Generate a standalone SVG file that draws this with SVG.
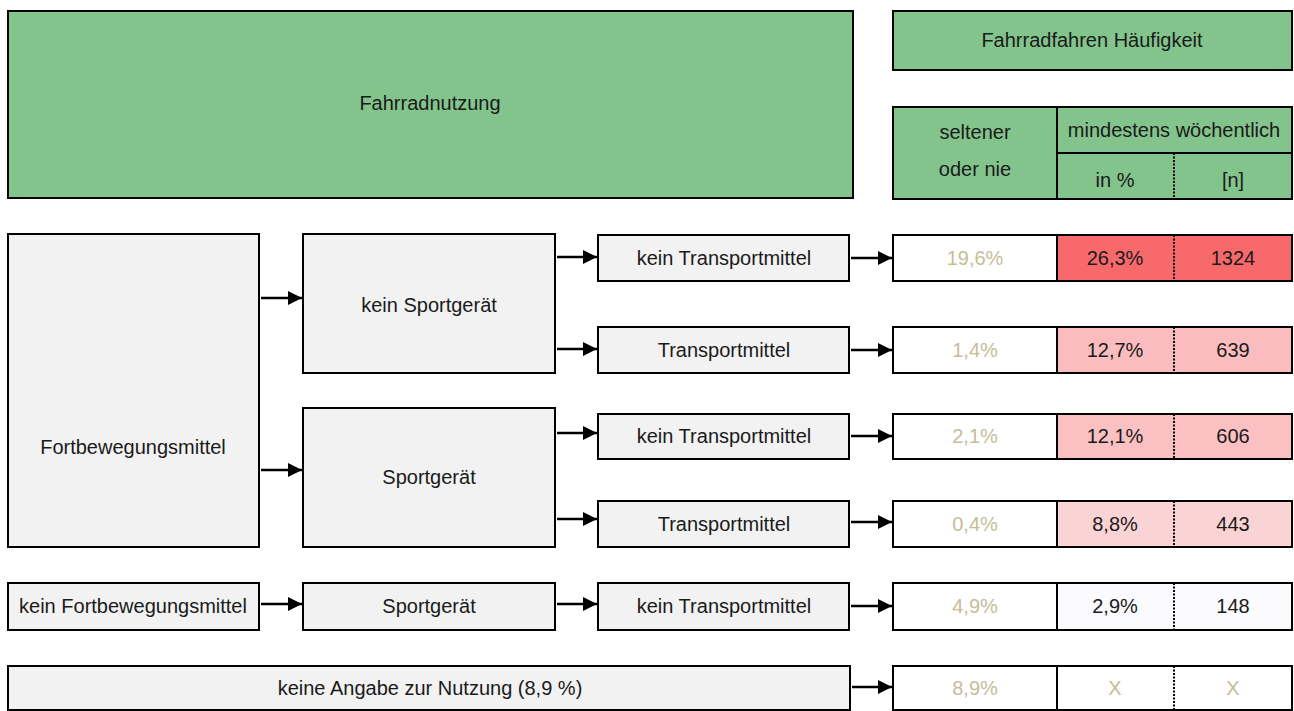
<svg xmlns="http://www.w3.org/2000/svg" width="1294" height="711" viewBox="0 0 1294 711">
<defs>
<marker id="ah" markerWidth="14" markerHeight="14" refX="14" refY="7" orient="auto" markerUnits="userSpaceOnUse">
<path d="M0,0 L14,7 L0,14 z" fill="#000"/>
</marker>
<style>
text{font-family:"Liberation Sans",Arial,sans-serif;font-size:20px;fill:#1a1a1a;text-anchor:middle;dominant-baseline:central}
.g{fill:#83C48C;stroke:#000;stroke-width:2}
.n{fill:#F2F2F2;stroke:#000;stroke-width:2}
.w{fill:#FFFFFF;stroke:#000;stroke-width:2}
.ln{stroke:#000;stroke-width:2;fill:none}
.dash{stroke:#000;stroke-width:2;stroke-dasharray:2 1.5;fill:none}
.t{fill:#C4BD97}
.c{stroke:#000;stroke-width:2.5;fill:none;marker-end:url(#ah)}
</style>
</defs>

<g id="header-nutzung">
<rect class="g" x="8" y="11" width="845" height="187"/>
<text x="430" y="103">Fahrradnutzung</text>
</g>
<g id="header-haeufigkeit">
<rect class="g" x="893" y="11" width="399" height="59"/>
<text x="1092" y="40">Fahrradfahren Häufigkeit</text>
</g>
<g id="header-table">
<rect class="g" x="893" y="107" width="399" height="92"/>
<line class="ln" x1="1057" y1="107" x2="1057" y2="199"/>
<line class="ln" x1="1057" y1="153" x2="1292" y2="153"/>
<line class="dash" x1="1174" y1="153" x2="1174" y2="199"/>
<text x="975" y="132">seltener</text>
<text x="975" y="169">oder nie</text>
<text x="1174" y="130">mindestens wöchentlich</text>
<text x="1115" y="180">in %</text>
<text x="1233" y="180">[n]</text>
</g>

<g id="fortbewegungsmittel">
<rect class="n" x="8" y="234" width="251" height="313"/>
<text x="133" y="447">Fortbewegungsmittel</text>
</g>
<g id="kein-sportgeraet">
<rect class="n" x="303" y="234" width="252" height="139"/>
<text x="429" y="305">kein Sportgerät</text>
</g>
<g id="sportgeraet">
<rect class="n" x="303" y="408" width="252" height="139"/>
<text x="429" y="477">Sportgerät</text>
</g>
<g id="t1">
<rect class="n" x="598" y="235" width="251" height="46"/>
<text x="724" y="258">kein Transportmittel</text>
</g>
<g id="t2">
<rect class="n" x="598" y="327" width="251" height="46"/>
<text x="724" y="350">Transportmittel</text>
</g>
<g id="t3">
<rect class="n" x="598" y="414" width="251" height="45"/>
<text x="724" y="436">kein Transportmittel</text>
</g>
<g id="t4">
<rect class="n" x="598" y="501" width="251" height="46"/>
<text x="724" y="524">Transportmittel</text>
</g>
<g id="kein-fortbewegungsmittel">
<rect class="n" x="8" y="583" width="251" height="47"/>
<text x="133" y="606">kein Fortbewegungsmittel</text>
</g>
<g id="sportgeraet2">
<rect class="n" x="303" y="583" width="252" height="47"/>
<text x="429" y="606">Sportgerät</text>
</g>
<g id="t5">
<rect class="n" x="598" y="583" width="251" height="47"/>
<text x="724" y="606">kein Transportmittel</text>
</g>
<g id="keine-angabe">
<rect class="n" x="8" y="666" width="842" height="44"/>
<text x="430" y="688">keine Angabe zur Nutzung (8,9 %)</text>
</g>

<g id="row1">
<rect class="w" x="893" y="235" width="164" height="46"/>
<rect x="1057" y="235" width="235" height="46" fill="#F8696B" stroke="#000" stroke-width="2"/>
<line class="dash" x1="1174" y1="235" x2="1174" y2="281"/>
<text class="t" x="975" y="258">19,6%</text>
<text x="1115" y="258">26,3%</text>
<text x="1233" y="258">1324</text>
</g>
<g id="row2">
<rect class="w" x="893" y="327" width="164" height="46"/>
<rect x="1057" y="327" width="235" height="46" fill="#FABCBE" stroke="#000" stroke-width="2"/>
<line class="dash" x1="1174" y1="327" x2="1174" y2="373"/>
<text class="t" x="975" y="350">1,4%</text>
<text x="1115" y="350">12,7%</text>
<text x="1233" y="350">639</text>
</g>
<g id="row3">
<rect class="w" x="893" y="414" width="164" height="45"/>
<rect x="1057" y="414" width="235" height="45" fill="#FAC0C2" stroke="#000" stroke-width="2"/>
<line class="dash" x1="1174" y1="414" x2="1174" y2="459"/>
<text class="t" x="975" y="436">2,1%</text>
<text x="1115" y="436">12,1%</text>
<text x="1233" y="436">606</text>
</g>
<g id="row4">
<rect class="w" x="893" y="501" width="164" height="46"/>
<rect x="1057" y="501" width="235" height="46" fill="#FAD3D5" stroke="#000" stroke-width="2"/>
<line class="dash" x1="1174" y1="501" x2="1174" y2="547"/>
<text class="t" x="975" y="524">0,4%</text>
<text x="1115" y="524">8,8%</text>
<text x="1233" y="524">443</text>
</g>
<g id="row5">
<rect class="w" x="893" y="583" width="164" height="47"/>
<rect x="1057" y="583" width="235" height="47" fill="#FBFBFE" stroke="#000" stroke-width="2"/>
<line class="dash" x1="1174" y1="583" x2="1174" y2="630"/>
<text class="t" x="975" y="606">4,9%</text>
<text x="1115" y="606">2,9%</text>
<text x="1233" y="606">148</text>
</g>
<g id="row6">
<rect class="w" x="893" y="666" width="164" height="44"/>
<rect class="w" x="1057" y="666" width="235" height="44"/>
<line class="dash" x1="1174" y1="666" x2="1174" y2="710"/>
<text class="t" x="975" y="688">8,9%</text>
<text class="t" x="1115" y="688">X</text>
<text class="t" x="1233" y="688">X</text>
</g>

<g id="connectors">
<line class="c" x1="261" y1="298" x2="302" y2="298"/>
<line class="c" x1="261" y1="470" x2="302" y2="470"/>
<line class="c" x1="557" y1="257" x2="597" y2="257"/>
<line class="c" x1="557" y1="349" x2="597" y2="349"/>
<line class="c" x1="557" y1="433" x2="597" y2="433"/>
<line class="c" x1="557" y1="519" x2="597" y2="519"/>
<line class="c" x1="261" y1="604" x2="302" y2="604"/>
<line class="c" x1="557" y1="604" x2="597" y2="604"/>
<line class="c" x1="851" y1="258" x2="892" y2="258"/>
<line class="c" x1="851" y1="350" x2="892" y2="350"/>
<line class="c" x1="851" y1="436" x2="892" y2="436"/>
<line class="c" x1="851" y1="522" x2="892" y2="522"/>
<line class="c" x1="851" y1="606" x2="892" y2="606"/>
<line class="c" x1="852" y1="687" x2="892" y2="687"/>
</g>
</svg>
